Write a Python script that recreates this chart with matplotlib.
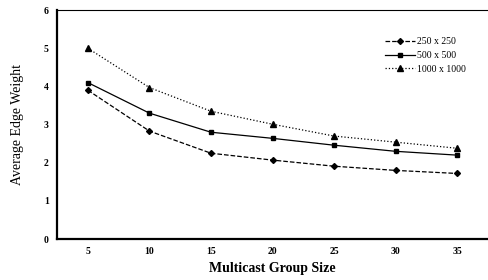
import matplotlib.pyplot as plt

group_size = [5, 10, 15, 20, 25, 30, 35]
w_250 = [3.9, 2.83, 2.25, 2.07, 1.91, 1.8, 1.72]
w_500 = [4.1, 3.3, 2.8, 2.64, 2.46, 2.3, 2.2]
w_1000 = [5.0, 3.97, 3.35, 3.01, 2.7, 2.54, 2.38]

plt.rcParams['font.family'] = ['Liberation Serif', 'DejaVu Serif']

fig = plt.figure(figsize=(4.88, 2.8), dpi=100)
ax = fig.add_axes([0.117, 0.146, 0.883, 0.818])

ax.plot(group_size, w_250, linestyle='--', marker='D', markersize=3,
        color='black', linewidth=0.9, label='250 x 250')
ax.plot(group_size, w_500, linestyle='-', marker='s', markersize=3.5,
        color='black', linewidth=0.9, label='500 x 500')
ax.plot(group_size, w_1000, linestyle=':', marker='^', markersize=4,
        color='black', linewidth=0.9, label='1000 x 1000')

ax.set_xlim(2.5, 37.5)
ax.set_ylim(0, 6)
ax.set_xticks(group_size)
ax.set_yticks(range(0, 7))
ax.tick_params(labelsize=7, length=0, pad=6)
for lbl in ax.get_xticklabels() + ax.get_yticklabels():
    lbl.set_fontweight('bold')

ax.spines['right'].set_visible(False)
ax.spines['left'].set_linewidth(1.6)
ax.spines['bottom'].set_linewidth(1.6)
ax.spines['top'].set_linewidth(0.8)

ax.set_xlabel('Multicast Group Size', fontsize=10, fontweight='bold', labelpad=4)
ax.set_ylabel('Average Edge Weight', fontsize=10, labelpad=14)

ax.legend(loc='upper right', bbox_to_anchor=(0.97, 0.92), frameon=False,
          fontsize=7, handlelength=3, labelspacing=0.5, handletextpad=0.3)

fig.savefig('out.png', dpi=100)
